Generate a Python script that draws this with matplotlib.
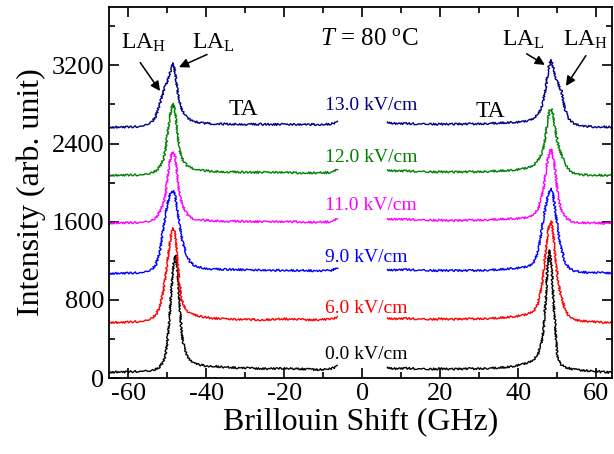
import matplotlib
matplotlib.use("Agg")
import matplotlib.pyplot as plt

plt.rcParams['font.family'] = ['Liberation Serif', 'DejaVu Serif']
plt.rcParams['mathtext.fontset'] = 'custom'
plt.rcParams['mathtext.rm'] = 'Liberation Serif'
plt.rcParams['mathtext.it'] = 'Liberation Serif:italic'
plt.rcParams['mathtext.bf'] = 'Liberation Serif:bold'

# ---- data ----
x_left = [-65, -62, -59, -56, -54, -53, -52, -51, -50.5, -50, -49.5, -49, -48.5, -48,
          -47.5, -47, -46.5, -46, -45, -44, -43, -41, -38, -35, -32, -29, -26, -23,
          -20, -17, -14, -11, -8, -6.4]
x_right = [6.4, 8, 11, 14, 17, 20, 23, 26, 29, 32, 35, 38, 41, 43, 44, 45, 46, 46.5,
           47, 47.5, 48, 48.5, 49, 49.5, 50, 50.5, 51, 52, 53, 54, 56, 59, 62, 65]

field_labels = ["0.0 kV/cm", "6.0 kV/cm", "9.0 kV/cm", "11.0 kV/cm", "12.0 kV/cm", "13.0 kV/cm"]
colors = ["#000000", "#ff0000", "#0000ff", "#ff00ff", "#008000", "#000080"]

left_0 = [60, 62, 65, 70, 75, 90, 115, 170, 240, 380, 620, 900, 1150, 1258, 1150, 850,
          520, 360, 230, 175, 150, 128, 120, 110, 105, 100, 95, 95, 100, 95, 90, 85, 95, 120]
right_0 = [110, 95, 100, 95, 90, 95, 90, 95, 95, 100, 105, 115, 140, 165, 190, 240, 380,
           520, 800, 1150, 1310, 1150, 800, 480, 230, 170, 140, 110, 100, 90, 80, 70, 60, 55]

left_6 = [570, 568, 575, 580, 610, 650, 720, 900, 1050, 1200, 1350, 1480, 1534, 1480, 1250,
          1000, 830, 760, 690, 660, 645, 625, 610, 605, 600, 600, 595, 600, 605, 600, 595,
          595, 605, 625]
right_6 = [615, 605, 610, 605, 600, 605, 600, 605, 605, 610, 615, 625, 640, 665, 690, 760,
           950, 1100, 1300, 1480, 1580, 1600, 1450, 1220, 1050, 930, 830, 700, 625, 600,
           585, 575, 570, 570]

left_9 = [1070, 1072, 1075, 1080, 1110, 1160, 1280, 1550, 1680, 1780, 1860, 1910, 1920,
          1860, 1720, 1600, 1480, 1380, 1240, 1180, 1150, 1125, 1115, 1110, 1110, 1105,
          1105, 1100, 1105, 1100, 1100, 1095, 1100, 1130]
right_9 = [1110, 1105, 1110, 1105, 1100, 1100, 1100, 1100, 1100, 1105, 1110, 1120, 1130,
           1150, 1190, 1290, 1530, 1640, 1760, 1860, 1920, 1940, 1850, 1700, 1560, 1420,
           1330, 1180, 1130, 1100, 1085, 1078, 1075, 1073]

left_11 = [1585, 1588, 1590, 1595, 1610, 1640, 1700, 1790, 1880, 2050, 2200, 2290, 2314,
           2260, 2080, 1900, 1820, 1760, 1680, 1640, 1625, 1615, 1610, 1605, 1605, 1600,
           1600, 1600, 1600, 1600, 1595, 1595, 1600, 1630]
right_11 = [1630, 1625, 1625, 1620, 1615, 1615, 1610, 1615, 1615, 1620, 1625, 1630, 1635,
            1650, 1680, 1720, 1870, 1960, 2100, 2230, 2320, 2345, 2250, 2100, 1920, 1800,
            1720, 1650, 1615, 1600, 1590, 1588, 1585, 1585]

left_12 = [2075, 2075, 2078, 2080, 2100, 2120, 2160, 2240, 2340, 2500, 2650, 2760, 2810,
           2720, 2520, 2360, 2280, 2230, 2175, 2150, 2140, 2125, 2115, 2110, 2108, 2105,
           2105, 2105, 2105, 2100, 2100, 2100, 2105, 2135]
right_12 = [2130, 2120, 2120, 2115, 2110, 2110, 2108, 2110, 2110, 2115, 2120, 2125, 2140,
            2160, 2180, 2230, 2290, 2380, 2490, 2630, 2740, 2760, 2680, 2530, 2420, 2350,
            2290, 2190, 2130, 2100, 2080, 2078, 2075, 2075]

left_13 = [2566, 2568, 2570, 2580, 2620, 2680, 2800, 2940, 2990, 3040, 3110, 3180, 3222,
           3120, 2960, 2840, 2770, 2720, 2670, 2640, 2625, 2610, 2600, 2600, 2598, 2597,
           2596, 2596, 2596, 2595, 2595, 2595, 2600, 2625]
right_13 = [2620, 2605, 2605, 2600, 2600, 2598, 2598, 2600, 2600, 2605, 2610, 2615, 2622,
            2640, 2660, 2700, 2770, 2870, 2970, 3100, 3220, 3255, 3170, 3090, 3030, 2980,
            2940, 2740, 2650, 2610, 2580, 2572, 2570, 2566]

left_series = [left_0, left_6, left_9, left_11, left_12, left_13]
right_series = [right_0, right_6, right_9, right_11, right_12, right_13]
label_y = [194, 664, 1189, 1718, 2212, 2740]

x_ticks = [-60, -40, -20, 0, 20, 40, 60]
y_ticks = [0, 800, 1600, 2400, 3200]

# ---- figure ----
fig = plt.figure(figsize=(6.14, 4.54), dpi=100)
ax = fig.add_axes([0.1775, 0.1674, 0.8192, 0.8178])

for yl, yr, c, lab, ly in zip(left_series, right_series, colors, field_labels, label_y):
    for xs, ys in ((x_left, yl), (x_right, yr)):
        ln, = ax.plot(xs, ys, color=c, lw=1.0)
        ln.set_sketch_params(scale=1.0, length=2.0, randomness=2.0)
    ax.text(-9.7, ly, lab, color=c, fontsize=14, ha='left', va='baseline')

ax.set_xlim(-65, 64)
ax.set_ylim(0, 3800)
ax.set_xticks(x_ticks)
ax.set_yticks(y_ticks)
ax.set_xticks(range(-60, 61, 10), minor=True)
ax.set_yticks(range(0, 3800, 400), minor=True)
ax.tick_params(which='both', direction='in', top=True, right=True, labelsize=19, width=1.2)
ax.tick_params(which='major', length=7)
ax.tick_params(which='minor', length=4)
for s in ax.spines.values():
    s.set_linewidth(1.3)
ax.set_xticklabels([str(v) for v in x_ticks])
ax.set_xlabel('Brillouin Shift (GHz)', fontsize=23, labelpad=2)
ax.set_ylabel('Intensity (arb. unit)', fontsize=23, labelpad=4)

# annotations
arrow = dict(arrowstyle='-|>', color='black', lw=1.1, mutation_scale=14)
ax.annotate('', xy=(-51.5, 2914), xytext=(-57.4, 3252), arrowprops=arrow)
ax.annotate('', xy=(-47.7, 3170), xytext=(-39.2, 3323), arrowprops=arrow)
ax.annotate('', xy=(47.4, 3190), xytext=(41.5, 3333), arrowprops=arrow)
ax.annotate('', xy=(51.8, 2965), xytext=(57.7, 3323), arrowprops=arrow)
ax.text(-56.2, 3374, r'LA$_{\mathrm{H}}$', fontsize=17, ha='center', va='baseline')
ax.text(-38.3, 3374, r'LA$_{\mathrm{L}}$', fontsize=17, ha='center', va='baseline')
ax.text(41.3, 3405, r'LA$_{\mathrm{L}}$', fontsize=17, ha='center', va='baseline')
ax.text(57.2, 3405, r'LA$_{\mathrm{H}}$', fontsize=17, ha='center', va='baseline')
ax.text(-30.6, 2689, 'TA', fontsize=17, ha='center', va='baseline')
ax.text(32.8, 2669, 'TA', fontsize=17, ha='center', va='baseline')
ax.text(1.8, 3405, r'$T$ = 80 $^{\mathrm{o}}$C', fontsize=18, ha='center', va='baseline')

fig.savefig('out.png', dpi=100)
